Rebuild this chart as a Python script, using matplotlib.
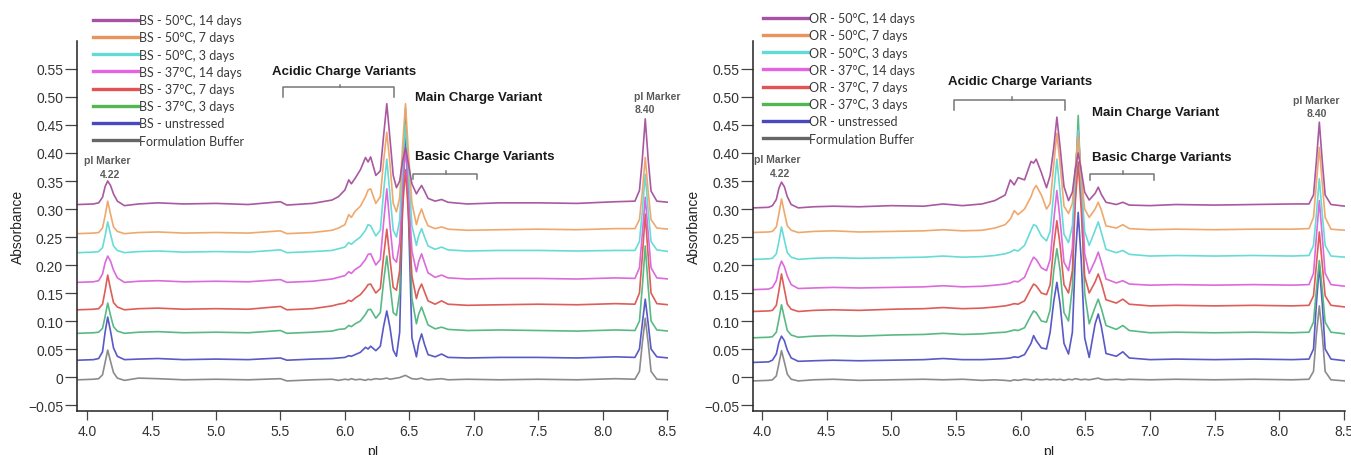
import matplotlib.pyplot as plt
from matplotlib.ticker import FixedLocator, FuncFormatter

# ---------------------------------------------------------------
# pI grids (one per panel) and absorbance traces on those grids
# ---------------------------------------------------------------
BS_PI = [3.93, 4.05, 4.09, 4.12, 4.14, 4.16, 4.182, 4.205, 4.235, 4.29,
         4.40, 4.55, 4.75, 5.00, 5.25, 5.50, 5.55, 5.75, 5.90, 5.95,
         6.00, 6.03, 6.05, 6.08, 6.12, 6.16, 6.18, 6.20, 6.24, 6.275,
         6.30, 6.325, 6.35, 6.375, 6.40, 6.425, 6.447, 6.47, 6.493, 6.52,
         6.555, 6.572, 6.595, 6.618, 6.645, 6.70, 6.75, 6.80, 6.95, 7.20,
         7.50, 7.80, 8.10, 8.25, 8.285, 8.307, 8.33, 8.353, 8.375, 8.42, 8.51]

bs_50c_14d = [0.308, 0.309, 0.311, 0.321, 0.340, 0.350, 0.342, 0.327, 0.314, 0.306,
              0.309, 0.311, 0.309, 0.310, 0.308, 0.313, 0.307, 0.310, 0.316, 0.322,
              0.334, 0.352, 0.345, 0.355, 0.370, 0.392, 0.384, 0.393, 0.360, 0.368,
              0.430, 0.488, 0.425, 0.360, 0.338, 0.350, 0.385, 0.410, 0.380, 0.345,
              0.327, 0.334, 0.342, 0.332, 0.319, 0.314, 0.317, 0.312, 0.309, 0.311,
              0.311, 0.310, 0.313, 0.314, 0.333, 0.388, 0.461, 0.388, 0.332, 0.314, 0.312]
bs_50c_7d = [0.256, 0.257, 0.258, 0.266, 0.288, 0.314, 0.291, 0.268, 0.260, 0.256,
             0.258, 0.259, 0.257, 0.258, 0.257, 0.261, 0.256, 0.258, 0.262, 0.266,
             0.272, 0.290, 0.285, 0.296, 0.305, 0.322, 0.334, 0.336, 0.310, 0.322,
             0.385, 0.437, 0.380, 0.310, 0.295, 0.320, 0.410, 0.488, 0.400, 0.310,
             0.272, 0.287, 0.300, 0.284, 0.270, 0.265, 0.268, 0.264, 0.262, 0.263,
             0.264, 0.263, 0.265, 0.265, 0.281, 0.330, 0.392, 0.330, 0.281, 0.266, 0.264]
bs_50c_3d = [0.222, 0.223, 0.224, 0.231, 0.252, 0.277, 0.255, 0.234, 0.226, 0.222,
             0.224, 0.225, 0.223, 0.224, 0.223, 0.227, 0.222, 0.224, 0.226, 0.229,
             0.232, 0.240, 0.237, 0.243, 0.250, 0.262, 0.272, 0.270, 0.252, 0.262,
             0.330, 0.389, 0.325, 0.262, 0.250, 0.280, 0.380, 0.450, 0.370, 0.270,
             0.235, 0.252, 0.265, 0.250, 0.234, 0.228, 0.232, 0.227, 0.225, 0.226,
             0.226, 0.225, 0.226, 0.226, 0.242, 0.295, 0.362, 0.295, 0.242, 0.227, 0.224]
bs_37c_14d = [0.169, 0.170, 0.172, 0.184, 0.204, 0.216, 0.207, 0.191, 0.177, 0.169,
              0.171, 0.172, 0.170, 0.171, 0.170, 0.174, 0.169, 0.171, 0.175, 0.178,
              0.181, 0.188, 0.185, 0.192, 0.198, 0.210, 0.219, 0.220, 0.200, 0.210,
              0.275, 0.336, 0.270, 0.212, 0.205, 0.240, 0.340, 0.410, 0.330, 0.225,
              0.188, 0.206, 0.220, 0.204, 0.186, 0.178, 0.182, 0.177, 0.175, 0.176,
              0.176, 0.175, 0.177, 0.176, 0.195, 0.255, 0.321, 0.255, 0.195, 0.177, 0.175]
bs_37c_7d = [0.120, 0.121, 0.122, 0.130, 0.154, 0.182, 0.157, 0.133, 0.125, 0.120,
             0.122, 0.123, 0.121, 0.122, 0.121, 0.126, 0.120, 0.122, 0.127, 0.130,
             0.132, 0.137, 0.135, 0.141, 0.147, 0.158, 0.165, 0.166, 0.150, 0.158,
             0.215, 0.264, 0.210, 0.160, 0.155, 0.190, 0.300, 0.370, 0.290, 0.180,
             0.140, 0.155, 0.166, 0.152, 0.136, 0.130, 0.136, 0.130, 0.128, 0.129,
             0.130, 0.129, 0.131, 0.130, 0.150, 0.215, 0.291, 0.215, 0.150, 0.131, 0.129]
bs_37c_3d = [0.078, 0.079, 0.080, 0.087, 0.108, 0.132, 0.110, 0.090, 0.082, 0.078,
             0.080, 0.081, 0.079, 0.080, 0.079, 0.083, 0.078, 0.080, 0.082, 0.085,
             0.086, 0.092, 0.090, 0.095, 0.100, 0.112, 0.120, 0.121, 0.105, 0.115,
             0.170, 0.216, 0.165, 0.115, 0.110, 0.150, 0.330, 0.480, 0.320, 0.140,
             0.095, 0.112, 0.125, 0.110, 0.093, 0.086, 0.089, 0.085, 0.083, 0.084,
             0.083, 0.082, 0.084, 0.083, 0.100, 0.160, 0.234, 0.160, 0.100, 0.084, 0.082]
bs_unstressed = [0.030, 0.031, 0.033, 0.045, 0.080, 0.107, 0.082, 0.052, 0.037, 0.031,
                 0.032, 0.033, 0.031, 0.032, 0.031, 0.034, 0.030, 0.032, 0.033, 0.034,
                 0.035, 0.038, 0.037, 0.040, 0.044, 0.053, 0.050, 0.055, 0.047, 0.055,
                 0.090, 0.118, 0.088, 0.048, 0.037, 0.080, 0.300, 0.453, 0.290, 0.070,
                 0.036, 0.060, 0.077, 0.058, 0.040, 0.036, 0.041, 0.035, 0.034, 0.035,
                 0.035, 0.034, 0.036, 0.035, 0.050, 0.095, 0.139, 0.095, 0.050, 0.036, 0.034]
bs_buffer = [-0.005, -0.004, -0.003, 0.004, 0.026, 0.048, 0.028, 0.008, -0.002, -0.006,
             -0.002, -0.003, -0.005, -0.004, -0.005, -0.003, -0.007, -0.005, -0.004, -0.006,
             -0.004, -0.005, -0.003, -0.005, -0.004, -0.006, -0.004, -0.005, -0.003, -0.004,
             -0.003, -0.002, -0.004, -0.003, -0.002, -0.001, 0.001, 0.003, 0.000, -0.003,
             -0.004, -0.003, -0.002, -0.004, -0.005, -0.004, -0.003, -0.005, -0.004, -0.005,
             -0.004, -0.005, -0.003, -0.004, 0.010, 0.060, 0.105, 0.060, 0.010, -0.004, -0.005]

OR_PI = [3.93, 4.05, 4.08, 4.11, 4.13, 4.15, 4.172, 4.195, 4.225, 4.28,
         4.40, 4.55, 4.75, 5.00, 5.25, 5.40, 5.55, 5.70, 5.80, 5.88,
         5.92, 5.95, 5.98, 6.03, 6.08, 6.10, 6.12, 6.16, 6.20, 6.228,
         6.256, 6.28, 6.305, 6.335, 6.37, 6.40, 6.422, 6.445, 6.468, 6.495,
         6.53, 6.576, 6.60, 6.624, 6.66, 6.74, 6.79, 6.84, 7.00, 7.20,
         7.50, 7.80, 8.10, 8.23, 8.265, 8.287, 8.31, 8.333, 8.355, 8.40, 8.51]

or_50c_14d = [0.302, 0.303, 0.306, 0.317, 0.337, 0.348, 0.340, 0.322, 0.308, 0.302,
              0.304, 0.305, 0.304, 0.306, 0.305, 0.309, 0.306, 0.309, 0.315, 0.325,
              0.352, 0.343, 0.356, 0.352, 0.385, 0.382, 0.389, 0.365, 0.338, 0.360,
              0.410, 0.464, 0.410, 0.340, 0.315, 0.330, 0.370, 0.400, 0.370, 0.330,
              0.316, 0.328, 0.339, 0.326, 0.312, 0.308, 0.312, 0.307, 0.306, 0.308,
              0.307, 0.308, 0.309, 0.309, 0.325, 0.385, 0.455, 0.385, 0.325, 0.308, 0.305]
or_50c_7d = [0.258, 0.259, 0.260, 0.268, 0.291, 0.318, 0.294, 0.270, 0.262, 0.258,
             0.260, 0.261, 0.259, 0.260, 0.261, 0.263, 0.261, 0.262, 0.266, 0.272,
             0.282, 0.297, 0.290, 0.300, 0.322, 0.335, 0.342, 0.325, 0.300, 0.310,
             0.380, 0.435, 0.380, 0.305, 0.292, 0.310, 0.370, 0.430, 0.360, 0.300,
             0.285, 0.300, 0.312, 0.298, 0.270, 0.266, 0.272, 0.265, 0.263, 0.264,
             0.263, 0.264, 0.264, 0.265, 0.285, 0.345, 0.410, 0.345, 0.285, 0.264, 0.262]
or_50c_3d = [0.210, 0.211, 0.212, 0.220, 0.242, 0.268, 0.245, 0.222, 0.214, 0.210,
             0.212, 0.213, 0.212, 0.213, 0.214, 0.216, 0.214, 0.215, 0.217, 0.220,
             0.223, 0.227, 0.225, 0.235, 0.262, 0.272, 0.270, 0.252, 0.243, 0.260,
             0.330, 0.389, 0.330, 0.255, 0.240, 0.270, 0.360, 0.440, 0.350, 0.260,
             0.235, 0.262, 0.277, 0.258, 0.228, 0.222, 0.226, 0.219, 0.216, 0.217,
             0.216, 0.217, 0.216, 0.217, 0.235, 0.290, 0.354, 0.290, 0.235, 0.216, 0.214]
or_37c_14d = [0.156, 0.157, 0.160, 0.172, 0.194, 0.207, 0.197, 0.180, 0.165, 0.158,
              0.159, 0.160, 0.159, 0.160, 0.161, 0.163, 0.161, 0.162, 0.164, 0.166,
              0.168, 0.171, 0.170, 0.178, 0.205, 0.214, 0.210, 0.195, 0.190, 0.210,
              0.280, 0.333, 0.280, 0.205, 0.190, 0.230, 0.360, 0.440, 0.350, 0.220,
              0.185, 0.208, 0.223, 0.205, 0.175, 0.168, 0.172, 0.166, 0.164, 0.165,
              0.164, 0.165, 0.164, 0.165, 0.185, 0.250, 0.315, 0.250, 0.185, 0.165, 0.162]
or_37c_7d = [0.117, 0.118, 0.119, 0.128, 0.154, 0.184, 0.157, 0.130, 0.121, 0.117,
             0.119, 0.120, 0.119, 0.121, 0.122, 0.124, 0.122, 0.123, 0.125, 0.127,
             0.129, 0.131, 0.130, 0.136, 0.158, 0.166, 0.163, 0.150, 0.147, 0.165,
             0.235, 0.279, 0.235, 0.165, 0.150, 0.190, 0.310, 0.384, 0.300, 0.180,
             0.150, 0.170, 0.184, 0.168, 0.138, 0.132, 0.139, 0.130, 0.127, 0.128,
             0.127, 0.128, 0.127, 0.128, 0.145, 0.200, 0.259, 0.200, 0.145, 0.128, 0.125]
or_37c_3d = [0.070, 0.071, 0.072, 0.080, 0.103, 0.129, 0.106, 0.083, 0.075, 0.071,
             0.073, 0.074, 0.073, 0.075, 0.076, 0.078, 0.076, 0.077, 0.079, 0.080,
             0.082, 0.084, 0.083, 0.088, 0.110, 0.118, 0.115, 0.100, 0.098, 0.120,
             0.190, 0.229, 0.190, 0.115, 0.100, 0.160, 0.340, 0.467, 0.330, 0.150,
             0.095, 0.125, 0.139, 0.122, 0.092, 0.085, 0.092, 0.083, 0.079, 0.080,
             0.079, 0.080, 0.079, 0.080, 0.098, 0.155, 0.208, 0.155, 0.098, 0.080, 0.077]
or_unstressed = [0.026, 0.027, 0.030, 0.041, 0.062, 0.073, 0.065, 0.048, 0.034, 0.028,
                 0.029, 0.030, 0.029, 0.030, 0.031, 0.033, 0.031, 0.031, 0.032, 0.033,
                 0.034, 0.036, 0.035, 0.040, 0.060, 0.074, 0.065, 0.052, 0.050, 0.080,
                 0.135, 0.169, 0.130, 0.060, 0.041, 0.080, 0.210, 0.294, 0.210, 0.070,
                 0.035, 0.095, 0.1125, 0.090, 0.042, 0.037, 0.045, 0.034, 0.031, 0.032,
                 0.031, 0.032, 0.031, 0.032, 0.050, 0.130, 0.199, 0.130, 0.050, 0.032, 0.029]
or_buffer = [-0.007, -0.006, -0.005, 0.002, 0.024, 0.047, 0.027, 0.005, -0.004, -0.007,
             -0.005, -0.004, -0.006, -0.005, -0.004, -0.005, -0.004, -0.006, -0.005, -0.006,
             -0.007, -0.005, -0.006, -0.004, -0.005, -0.006, -0.004, -0.005, -0.004, -0.005,
             -0.004, -0.005, -0.004, -0.006, -0.004, -0.005, -0.003, -0.004, -0.005, -0.004,
             -0.005, -0.003, -0.002, -0.004, -0.005, -0.004, -0.005, -0.004, -0.005, -0.004,
             -0.005, -0.004, -0.005, -0.004, 0.010, 0.075, 0.127, 0.075, 0.010, -0.005, -0.007]

CONDITIONS = ["50°C, 14 days", "50°C, 7 days", "50°C, 3 days", "37°C, 14 days",
              "37°C, 7 days", "37°C, 3 days", "unstressed"]
BS_LABELS = ["BS - " + c for c in CONDITIONS] + ["Formulation Buffer"]
OR_LABELS = ["OR - " + c for c in CONDITIONS] + ["Formulation Buffer"]

BS_TRACES = [bs_50c_14d, bs_50c_7d, bs_50c_3d, bs_37c_14d, bs_37c_7d, bs_37c_3d,
             bs_unstressed, bs_buffer]
OR_TRACES = [or_50c_14d, or_50c_7d, or_50c_3d, or_37c_14d, or_37c_7d, or_37c_3d,
             or_unstressed, or_buffer]

TRACE_COLORS = ["#a4509c", "#eea466", "#5fdad4", "#da62da", "#dc5450",
                "#50b67e", "#5050c4", "#858585"]
KEY_COLORS = ["#9c3f9c", "#e8874a", "#4fd8d2", "#e052e0", "#e04040",
              "#3fae3f", "#3434b8", "#555555"]

Y_TICKS = [-0.05, 0, 0.05, 0.10, 0.15, 0.20, 0.25, 0.30, 0.35, 0.40, 0.45, 0.50, 0.55]
X_TICKS = [4.0, 4.5, 5.0, 5.5, 6.0, 6.5, 7.0, 7.5, 8.0, 8.5]

# annotation layout for each panel (pI / absorbance coordinates)
BS_NOTES = dict(acid_txt=(5.435, 0.546), acid_br=(5.52, 6.38, 0.517, 0.500, 5.96),
                main_txt=(6.545, 0.500), basic_txt=(6.545, 0.395),
                basic_br=(6.53, 7.025, 0.3625, 0.3536, 6.785),
                mk1=(4.155, 0.3875, 0.3625), mk2=(8.42, 8.33, 0.502, 0.479),
                xlim=(3.922, 8.507))
OR_NOTES = dict(acid_txt=(5.44, 0.528), acid_br=(5.485, 6.343, 0.495, 0.477, 5.93),
                main_txt=(6.55, 0.4726), basic_txt=(6.55, 0.392),
                basic_br=(6.537, 7.03, 0.3625, 0.352, 6.79),
                mk1=(4.12, 0.39, 0.364), mk2=(8.29, 8.29, 0.495, 0.471),
                xlim=(3.930, 8.509))

plt.rcParams["font.family"] = ["Liberation Sans", "DejaVu Sans"]


def fmt_abs(v, pos):
    if abs(v) < 1e-9:
        return "0"
    return f"{v:.2f}".replace("-", "\u2212")


def draw_panel(ax, pi, traces, labels, notes):
    # bottom trace first so the stressed samples sit on top
    handles = []
    for ys, col, lab in reversed(list(zip(traces, TRACE_COLORS, labels))):
        h, = ax.plot(pi, ys, color=col, lw=1.2, alpha=0.95, label=lab,
                     solid_joinstyle="round")
        handles.append(h)
    handles = handles[::-1]

    ax.set_xlim(*notes["xlim"])
    ax.set_ylim(-0.0607, 0.60)
    ax.xaxis.set_major_locator(FixedLocator(X_TICKS))
    ax.xaxis.set_major_formatter(FuncFormatter(lambda v, p: f"{v:.1f}"))
    ax.yaxis.set_major_locator(FixedLocator(Y_TICKS))
    ax.yaxis.set_major_formatter(FuncFormatter(fmt_abs))
    for s in ("top", "right"):
        ax.spines[s].set_visible(False)
    for s in ("left", "bottom"):
        ax.spines[s].set_linewidth(1.1)
        ax.spines[s].set_color("#222222")
    ax.tick_params(axis="y", direction="out", length=8.5, width=0.9,
                   color="#444444", labelsize=10, labelcolor="#333333", pad=1.5)
    ax.tick_params(axis="x", direction="out", length=6.5, width=0.9,
                   color="#444444", labelsize=10, labelcolor="#333333", pad=3)
    ax.set_ylabel("Absorbance", fontsize=10, color="#222222", labelpad=2)
    ax.set_xlabel("pI", fontsize=10, color="#222222", labelpad=4)

    bold = dict(fontsize=9.5, fontweight="bold", color="#1a1a1a", va="center", ha="left")
    br = dict(color="#777777", lw=1.1, clip_on=False)

    x, y = notes["acid_txt"]
    ax.text(x, y, "Acidic Charge Variants", **bold)
    x0, x1, yt, yb, xm = notes["acid_br"]
    ax.plot([x0, x0, x1, x1], [yb, yt, yt, yb], **br)
    ax.plot([xm, xm], [yt, yt + 0.005], **br)

    x, y = notes["main_txt"]
    ax.text(x, y, "Main Charge Variant", **bold)
    x, y = notes["basic_txt"]
    ax.text(x, y, "Basic Charge Variants", **bold)
    x0, x1, yt, yb, xm = notes["basic_br"]
    ax.plot([x0, x0, x1, x1], [yb, yt, yt, yb], **br)
    ax.plot([xm, xm], [yt, yt + 0.005], **br)

    mk = dict(fontsize=7.5, fontweight="bold", color="#5a5a5a", ha="center", va="center")
    x, y1, y2 = notes["mk1"]
    ax.text(x, y1, "pI Marker", **mk)
    ax.text(x + 0.02, y2, "4.22", **mk)
    x1m, x2m, y1, y2 = notes["mk2"]
    ax.text(x1m, y1, "pI Marker", **mk)
    ax.text(x2m, y2, "8.40", **mk)
    return handles


fig = plt.figure(figsize=(13.51, 4.56), dpi=100)
ax_bs = fig.add_axes([0.0570, 0.0965, 0.4375, 0.8114])
ax_or = fig.add_axes([0.5574, 0.0965, 0.4382, 0.8114])

for ax, pi, traces, labels, notes, anchor in [
        (ax_bs, BS_PI, BS_TRACES, BS_LABELS, BS_NOTES, (93 / 1351, 1 - 15 / 456)),
        (ax_or, OR_PI, OR_TRACES, OR_LABELS, OR_NOTES, (763 / 1351, 1 - 13 / 456))]:
    handles = draw_panel(ax, pi, traces, labels, notes)
    leg = ax.legend(handles=handles, labels=labels, loc="upper left",
                    bbox_to_anchor=anchor, bbox_transform=fig.transFigure,
                    frameon=False, borderpad=0, borderaxespad=0,
                    handlelength=3.6, handletextpad=0.1, labelspacing=0.42,
                    prop={"family": ["Lato", "DejaVu Sans"], "size": 9})
    for line, col in zip(leg.get_lines(), KEY_COLORS):
        line.set_linewidth(2.4)
        line.set_color(col)
        line.set_alpha(0.9)
    for t in leg.get_texts():
        t.set_color("#3a3a3a")

fig.savefig("out.png", dpi=100)
